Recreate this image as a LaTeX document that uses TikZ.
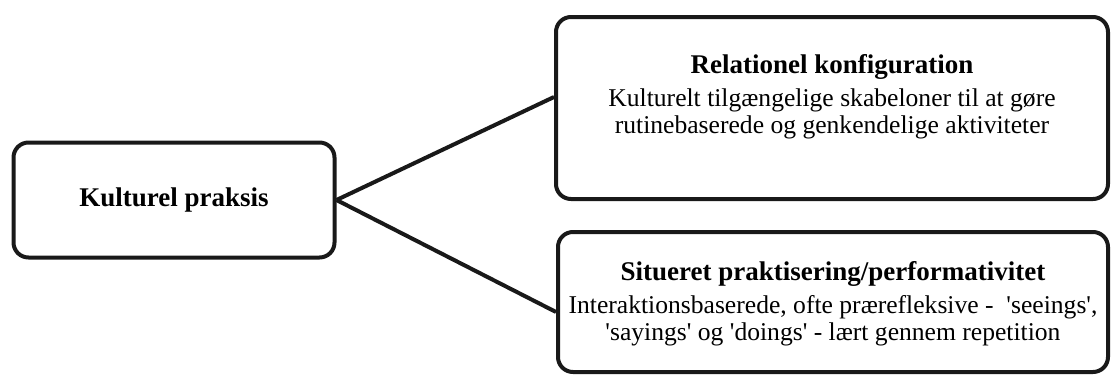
\documentclass[tikz,border=0pt]{standalone}
\usepackage{fontspec}
\setmainfont{Liberation Serif}
\tikzset{
	box/.style={draw=black!90, line width=2pt, rounded corners=7.5pt, inner sep=0pt},
	boxtext/.style={align=center, inner sep=0pt},
	link/.style={draw=black!90, line width=2pt}
}
\newcommand{\sq}{\textquotesingle}
\newcommand{\boxtitle}[1]{\textbf{\fontsize{13.5}{15}\selectfont #1}}
\begin{document}
		\begin{tikzpicture}[x=0.5pt, y=-0.5pt, font=\fontsize{12.8}{13.5}\selectfont]
			\useasboundingbox (0,0) rectangle (1120,376);
			% boxes
			\node[box, minimum width=160.5pt, minimum height=57.5pt] (praksis) at (174,200) {};
			\node[box, minimum width=276pt, minimum height=91pt] (relation) at (832,108) {};
			\node[box, minimum width=275pt, minimum height=70pt] (situeret) at (833,302) {};
			% texts
			\node[boxtext] (praksistext) at (praksis.center) {\boxtitle{Kulturel praksis}};
			\node[boxtext] (relationtext) at ([yshift=5.5pt]relation.center)
				{\boxtitle{Relationel konfiguration}\\[3pt]
				Kulturelt tilgængelige skabeloner til at gøre\\
				rutinebaserede og genkendelige aktiviteter};
			\node[boxtext] (situerettext) at ([yshift=-1pt]situeret.center)
				{\boxtitle{Situeret praktisering/performativitet}\\[3pt]
				Interaktionsbaserede, ofte prærefleksive -\ \ \sq seeings\sq,\\
				\sq sayings\sq{} og \sq doings\sq{} - lært gennem repetition};
			% connectors
			\draw[link] (praksis.east) -- ([yshift=5.5pt]relation.west);
			\draw[link] (praksis.east) -- ([yshift=-5pt]situeret.west);
		\end{tikzpicture}
\end{document}
